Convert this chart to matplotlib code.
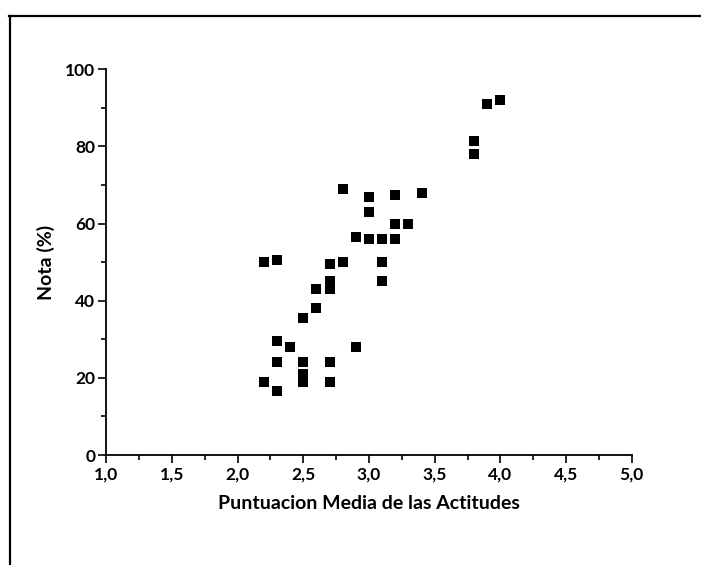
import matplotlib
matplotlib.use("Agg")
import matplotlib.pyplot as plt
from matplotlib.lines import Line2D
from matplotlib.ticker import MultipleLocator, FuncFormatter

# Data
actitudes = [2.2, 2.2,
             2.3, 2.3, 2.3, 2.3,
             2.4,
             2.5, 2.5, 2.5, 2.5,
             2.6, 2.6,
             2.7, 2.7, 2.7, 2.7, 2.7,
             2.8, 2.8,
             2.9, 2.9,
             3.0, 3.0, 3.0,
             3.1, 3.1, 3.1,
             3.2, 3.2, 3.2,
             3.3,
             3.4,
             3.8, 3.8,
             3.9,
             4.0]
nota = [19, 50,
        50.5, 29.5, 24, 16.5,
        28,
        35.5, 24, 21, 19,
        43, 38,
        49.5, 45, 43, 24, 19,
        69, 50,
        56.5, 28,
        67, 63, 56,
        56, 50, 45,
        67.5, 60, 56,
        60,
        68,
        81.5, 78,
        91,
        92]

xlabel = "Puntuacion Media de las Actitudes"
ylabel = "Nota (%)"

plt.rcParams['font.family'] = ['Lato', 'DejaVu Sans']

fig = plt.figure(figsize=(7.01, 5.65), dpi=100)
ax = fig.add_axes([106.3/701, 1-455/565, (631.7-106.3)/701, (455-69.3)/565])

ax.scatter(actitudes, nota, marker='s', s=45, color='black', linewidths=0, clip_on=False, zorder=3)

ax.set_xlim(1, 5)
ax.set_ylim(0, 100)
for side in ['top', 'right']:
    ax.spines[side].set_visible(False)
for side in ['left', 'bottom']:
    ax.spines[side].set_linewidth(1.3)

ax.xaxis.set_major_locator(MultipleLocator(0.5))
ax.xaxis.set_minor_locator(MultipleLocator(0.25))
ax.yaxis.set_major_locator(MultipleLocator(20))
ax.yaxis.set_minor_locator(MultipleLocator(10))
ax.xaxis.set_major_formatter(FuncFormatter(lambda v, p: f"{v:.1f}".replace('.', ',')))
ax.yaxis.set_major_formatter(FuncFormatter(lambda v, p: f"{v:.0f}"))

ax.tick_params(which='major', direction='out', length=6, width=1.2, labelsize=12.5, pad=2)
ax.tick_params(which='minor', direction='out', length=3.5, width=1.2)
for lab in ax.get_xticklabels() + ax.get_yticklabels():
    lab.set_fontweight('bold')

ax.set_xlabel(xlabel, fontsize=14, fontweight='bold', labelpad=9)
ax.set_ylabel(ylabel, fontsize=14, fontweight='bold', labelpad=7)

# Outer frame (left and top edges visible)
fig.add_artist(Line2D([9.5/701, 9.5/701], [0, 1-15.5/565], transform=fig.transFigure, color='black', linewidth=1.6))
fig.add_artist(Line2D([8.7/701, 1.0], [1-15.5/565, 1-15.5/565], transform=fig.transFigure, color='black', linewidth=1.6))

fig.savefig("out.png", dpi=100)
